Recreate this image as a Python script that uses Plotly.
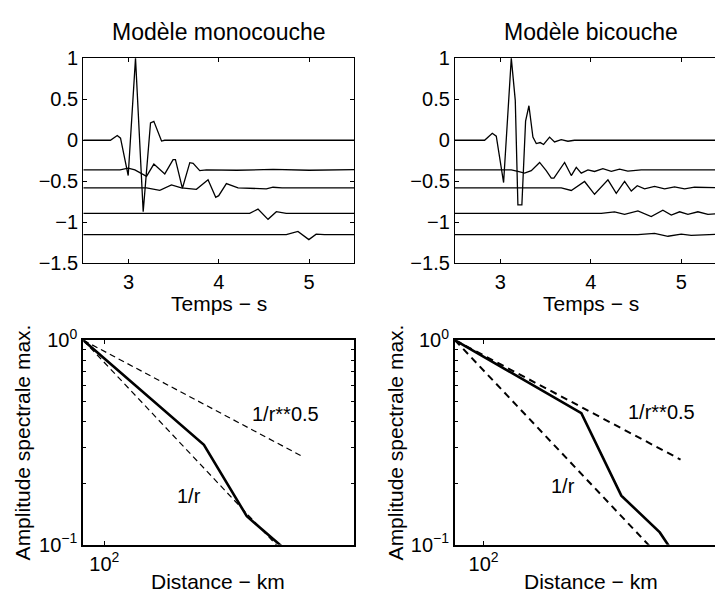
import plotly.graph_objects as go

# --- seismogram traces (time in s, amplitude relative to each trace baseline) ---
offsets = [0, -0.36, -0.58, -0.89, -1.15]

t_mono_0 = [2.5, 2.8, 2.876, 2.912, 2.997, 3.078, 3.163, 3.244, 3.281, 3.366, 3.4, 5.5]
a_mono_0 = [0, 0, 0.058, 0.026, -0.43, 1.0, -0.87, 0.21, 0.23, -0.01, 0, 0]
t_mono_1 = [2.5, 2.906, 2.997, 3.071, 3.2, 3.281, 3.402, 3.494, 3.52, 3.597, 3.679, 3.716,
            3.789, 3.863, 4.2, 4.6, 5.0, 5.5]
a_mono_1 = [0, 0, 0.02, 0, -0.08, 0.07, -0.05, 0.125, 0.125, -0.225, 0.087, 0.08,
            -0.01, 0, -0.005, 0.005, -0.005, 0.003]
t_mono_2 = [2.5, 3.2, 3.347, 3.476, 3.586, 3.752, 3.881, 3.966, 3.999, 4.084, 4.213, 4.526,
            4.6, 4.7, 5.5]
a_mono_2 = [0, 0, -0.03, 0.036, 0, -0.017, 0.1, -0.114, -0.095, 0.053, 0, -0.012,
            0.008, 0, 0]
t_mono_3 = [2.5, 4.342, 4.434, 4.545, 4.637, 4.747, 5.5]
a_mono_3 = [0, 0, 0.052, -0.073, 0.02, 0, 0]
t_mono_4 = [2.5, 4.747, 4.876, 4.997, 5.078, 5.17, 5.5]
a_mono_4 = [0, 0, 0.04, -0.06, 0.007, 0, 0]

t_bi_0 = [2.5, 2.827, 2.912, 2.956, 3.037, 3.122, 3.166, 3.195, 3.239, 3.28, 3.317, 3.361,
          3.398, 3.442, 3.479, 3.545, 3.6, 3.674, 3.748, 3.82, 5.5]
a_bi_0 = [0, 0, 0.085, 0.05, -0.515, 1.0, 0.486, -0.787, -0.787, 0.233, 0.42, 0.038,
          -0.04, -0.028, -0.051, 0.038, -0.02, 0.008, -0.012, 0, 0]
t_bi_1 = [2.5, 3.122, 3.195, 3.269, 3.343, 3.435, 3.508, 3.564, 3.593, 3.711, 3.785, 3.84,
          3.895, 3.969, 4.042, 4.134, 4.227, 4.319, 4.41, 4.558, 5.5]
a_bi_1 = [0, 0, -0.02, -0.04, -0.01, 0.09, -0.01, -0.1, -0.1, 0.09, -0.07, 0.03,
          -0.04, 0, -0.02, 0.013, -0.019, 0.009, -0.015, 0, 0]
t_bi_2 = [2.5, 3.674, 3.785, 3.932, 4.042, 4.19, 4.282, 4.374, 4.448, 4.514, 4.595, 4.705,
          4.816, 4.926, 5.037, 5.147, 5.5]
a_bi_2 = [0, 0, -0.031, 0.078, -0.078, 0.097, -0.066, 0.078, -0.039, 0.027, -0.012, 0.019,
          -0.012, 0.012, -0.012, 0.008, 0]
t_bi_3 = [2.5, 4.116, 4.263, 4.374, 4.521, 4.668, 4.797, 4.89, 4.982, 5.074, 5.184, 5.295, 5.5]
a_bi_3 = [0, 0, 0.019, -0.012, 0.03, -0.04, 0.038, -0.02, 0.019, -0.012, 0.019, -0.012, 0]
t_bi_4 = [2.5, 4.521, 4.705, 4.853, 5.0, 5.11, 5.5]
a_bi_4 = [0, 0, 0.016, -0.019, 0.008, -0.008, 0.008]

# --- max spectral amplitude vs distance ---
dist_mono = [77.8, 328, 547, 900]
amp_mono = [1.0, 0.308, 0.138, 0.092]
dist_mono_ref05 = [77.8, 1057]
amp_mono_ref05 = [1.0, 0.271]
dist_mono_ref1 = [77.8, 850]
amp_mono_ref1 = [1.0, 0.0915]

dist_bi = [71.1, 320, 515, 814, 1000]
amp_bi = [1.0, 0.44, 0.174, 0.115, 0.086]
dist_bi_ref05 = [71.1, 1042]
amp_bi_ref05 = [1.0, 0.261]
dist_bi_ref1 = [71.1, 800]
amp_bi_ref1 = [1.0, 0.0889]

FONT = "Liberation Sans, Arial, Helvetica, sans-serif"
W, H = 715, 616

mono = [(t_mono_0, a_mono_0), (t_mono_1, a_mono_1), (t_mono_2, a_mono_2),
        (t_mono_3, a_mono_3), (t_mono_4, a_mono_4)]
bi = [(t_bi_0, a_bi_0), (t_bi_1, a_bi_1), (t_bi_2, a_bi_2),
      (t_bi_3, a_bi_3), (t_bi_4, a_bi_4)]

fig = go.Figure()

for traces, xa, ya in [(mono, "x", "y"), (bi, "x2", "y2")]:
    for (t, a), off in zip(traces, offsets):
        fig.add_trace(go.Scatter(x=t, y=[v + off for v in a], mode="lines",
                                 line=dict(color="black", width=1.3),
                                 xaxis=xa, yaxis=ya, showlegend=False))

fig.add_trace(go.Scatter(x=dist_mono_ref05, y=amp_mono_ref05, mode="lines",
                         line=dict(color="black", width=1.2, dash="6px,4px"),
                         xaxis="x3", yaxis="y3", showlegend=False))
fig.add_trace(go.Scatter(x=dist_mono_ref1, y=amp_mono_ref1, mode="lines",
                         line=dict(color="black", width=1.2, dash="6px,4px"),
                         xaxis="x3", yaxis="y3", showlegend=False))
fig.add_trace(go.Scatter(x=dist_mono, y=amp_mono, mode="lines",
                         line=dict(color="black", width=2.6),
                         xaxis="x3", yaxis="y3", showlegend=False))

fig.add_trace(go.Scatter(x=dist_bi_ref05, y=amp_bi_ref05, mode="lines",
                         line=dict(color="black", width=2, dash="7px,5px"),
                         xaxis="x4", yaxis="y4", showlegend=False))
fig.add_trace(go.Scatter(x=dist_bi_ref1, y=amp_bi_ref1, mode="lines",
                         line=dict(color="black", width=2, dash="7px,5px"),
                         xaxis="x4", yaxis="y4", showlegend=False))
fig.add_trace(go.Scatter(x=dist_bi, y=amp_bi, mode="lines",
                         line=dict(color="black", width=2.6),
                         xaxis="x4", yaxis="y4", showlegend=False))

left_dom = [83.3 / W, 354.3 / W]
right_dom = [455 / W, 1.0]
top_dom = [1 - 260 / H, 1 - 46 / H]
bot_dom = [1 - 553.3 / H, 1 - 340 / H]

tickfont = dict(family=FONT, size=20, color="black")
common = dict(showgrid=False, zeroline=False, showline=True, linecolor="black",
              ticks="inside", ticklen=4, tickcolor="black", tickfont=tickfont)

minor_log = dict(ticks="inside", ticklen=3, tickcolor="black",
                 tickvals=[0.2, 0.3, 0.4, 0.5, 0.6, 0.7, 0.8, 0.9])

layout_axes = dict(
    xaxis=dict(common, domain=left_dom, anchor="y", range=[2.5, 5.5],
               tickvals=[3, 4, 5], mirror="ticks", linewidth=1.3),
    yaxis=dict(common, domain=top_dom, anchor="x", range=[-1.5, 1],
               tickvals=[-1.5, -1, -0.5, 0, 0.5, 1], mirror="ticks", linewidth=1.3),
    xaxis2=dict(common, domain=right_dom, anchor="y2", range=[2.5, 5.373],
                tickvals=[3, 4, 5], mirror="ticks", linewidth=1.3),
    yaxis2=dict(common, domain=top_dom, anchor="x2", range=[-1.5, 1],
                tickvals=[-1.5, -1, -0.5, 0, 0.5, 1], mirror=False, linewidth=1.3),
    xaxis3=dict(common, domain=left_dom, anchor="y3", type="log", range=[1.891, 3.295],
                tickvals=[100], ticktext=["10<sup>2</sup>"], mirror="ticks", linewidth=2),
    yaxis3=dict(common, domain=bot_dom, anchor="x3", type="log", range=[-1, 0],
                tickvals=[0.1, 1], ticktext=["10<sup>−1</sup>", "10<sup>0</sup>"],
                mirror="ticks", linewidth=2, minor=minor_log),
    xaxis4=dict(common, domain=right_dom, anchor="y4", type="log", range=[1.852, 3.196],
                tickvals=[100], ticktext=["10<sup>2</sup>"], mirror="ticks", linewidth=2),
    yaxis4=dict(common, domain=bot_dom, anchor="x4", type="log", range=[-1, 0],
                tickvals=[0.1, 1], ticktext=["10<sup>−1</sup>", "10<sup>0</sup>"],
                mirror=False, linewidth=2, minor=minor_log),
)


def label(text, x, y, size=21, angle=0):
    return dict(text=text, x=x / W, y=1 - y / H, xref="paper", yref="paper",
                showarrow=False, textangle=angle, xanchor="center", yanchor="middle",
                font=dict(family=FONT, size=size, color="black"))


def curve_label(text, x, y, axis):
    return dict(text=text, x=x, y=y, xref="x" + axis, yref="y" + axis, showarrow=False,
                font=dict(family=FONT, size=20, color="black"))


annotations = [
    label("Modèle monocouche", 218.8, 19, size=23),
    label("Modèle bicouche", 590.5, 19, size=23),
    label("Temps − s", 218.8, 302),
    label("Temps − s", 590.5, 302),
    label("Distance − km", 217.5, 591),
    label("Distance − km", 591, 591),
    label("Amplitude spectrale max.", 22, 446.5, angle=-90),
    label("Amplitude spectrale max.", 395, 446.5, angle=-90),
    # curve labels in data coordinates (log10 units on log axes)
    curve_label("1/r**0.5", 2.940, -0.3615, "3"),
    curve_label("1/r", 2.440, -0.759, "3"),
    curve_label("1/r**0.5", 2.922, -0.352, "4"),
    curve_label("1/r", 2.410, -0.712, "4"),
]

fig.update_layout(
    width=W, height=H,
    margin=dict(l=0, r=0, t=0, b=0),
    paper_bgcolor="white", plot_bgcolor="white",
    font=dict(family=FONT, color="black"),
    annotations=annotations,
    **layout_axes,
)

# pin the figure to the window origin so nothing in the page shifts or rescales it
pin = ("document.body.style.margin='0';document.body.style.overflow='hidden';"
       "var d=document.getElementById('{plot_id}');"
       "d.style.position='fixed';d.style.top='0';d.style.left='0';")
fig.write_html("out.html", config={"displayModeBar": False}, post_script=pin)
